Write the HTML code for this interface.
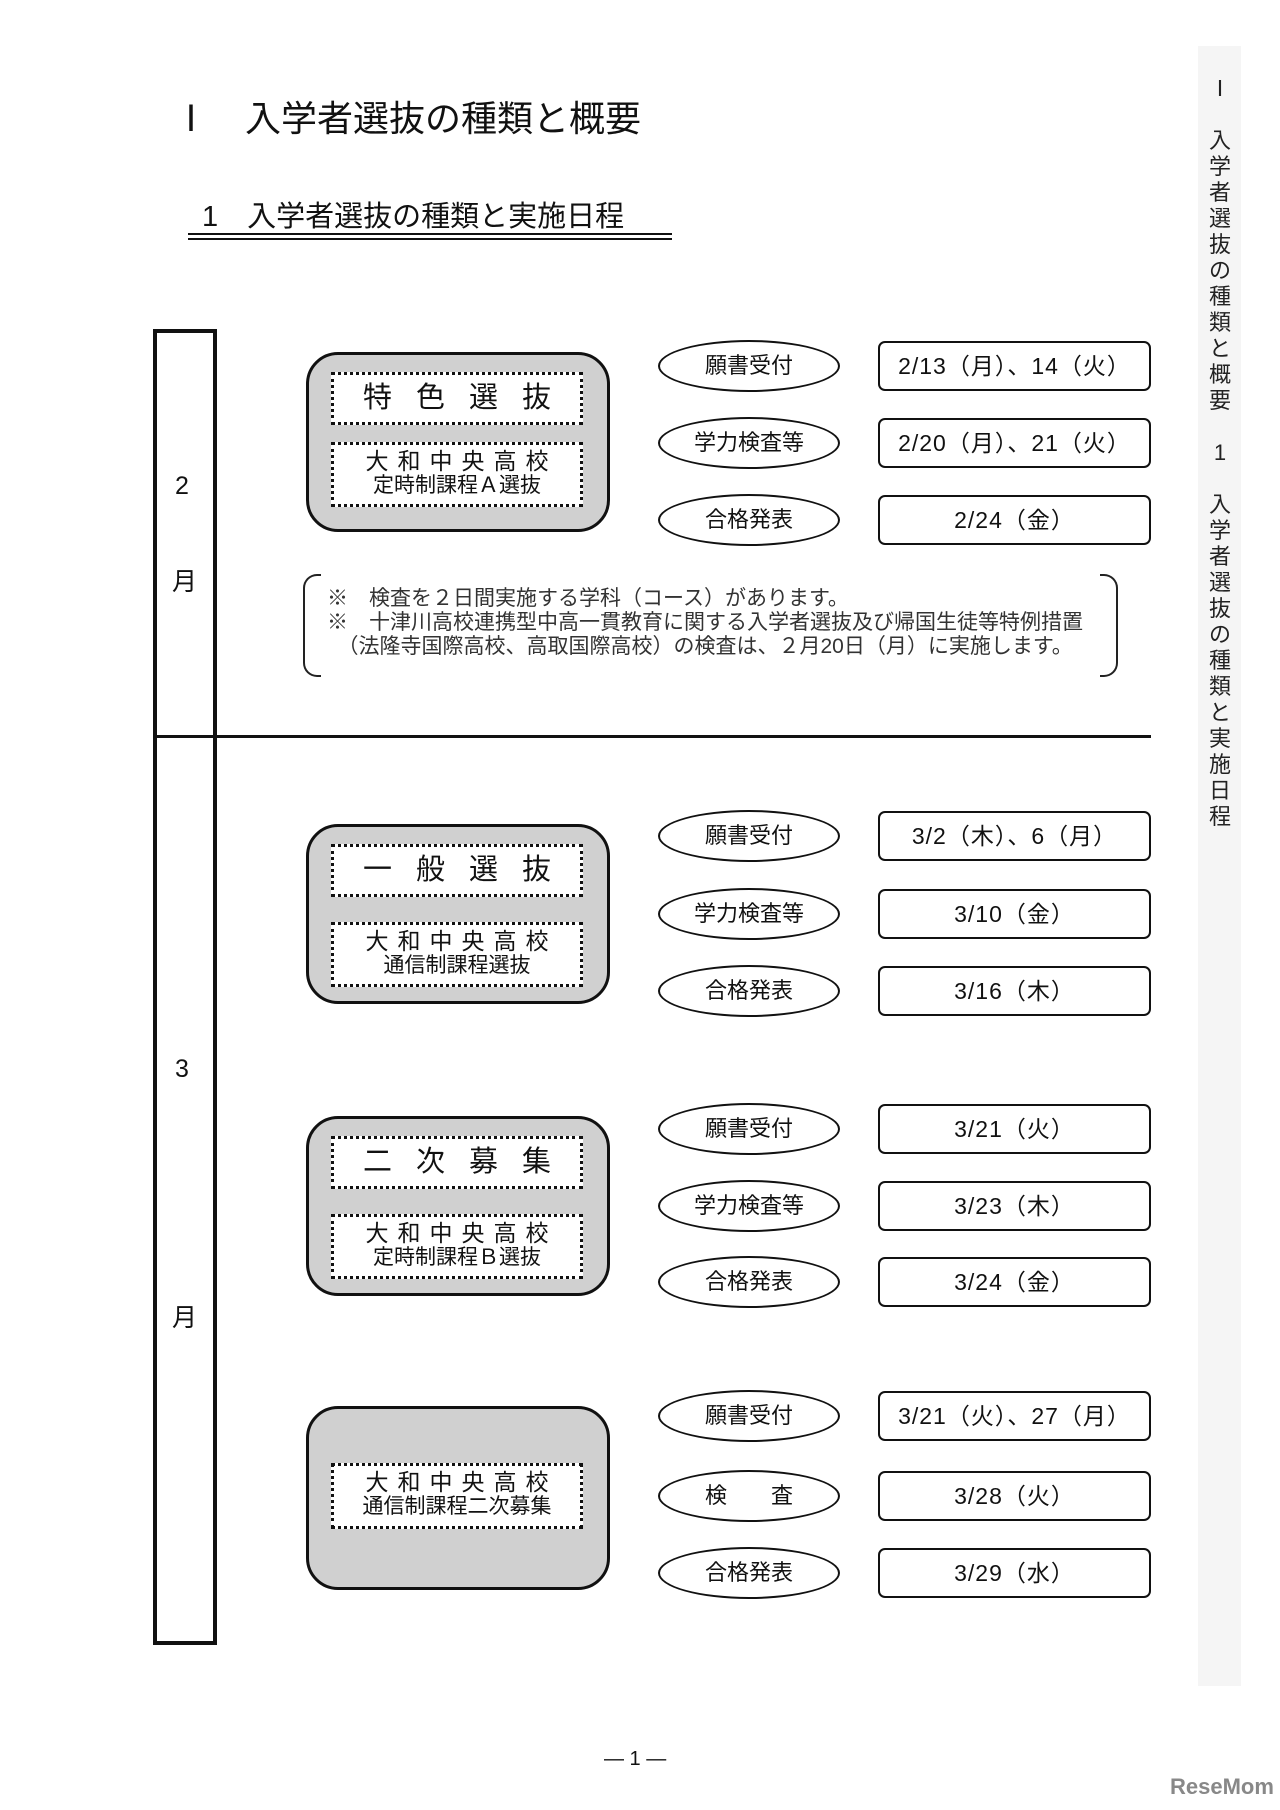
<!DOCTYPE html>
<html><head><meta charset="utf-8"><style>
body{margin:0;width:1280px;height:1810px;background:#fff;position:relative;font-family:"Liberation Sans","Noto Sans CJK JP",sans-serif;color:#111;overflow:hidden}
.a{position:absolute}
.g{position:absolute;left:306px;width:304px;height:180px;background:#d0d0d0;border:3px solid #111;border-radius:32px;box-sizing:border-box}
.d{position:absolute;left:331px;width:252px;border:3px dotted #111;background:#fff;box-sizing:border-box;text-align:center;line-height:1.1}
.o{position:absolute;left:658px;width:182px;height:52px;border:2px solid #111;border-radius:50%;box-sizing:border-box;text-align:center;line-height:48px;font-size:22px}
.b{position:absolute;left:878px;width:273px;height:50px;border:2px solid #111;border-radius:7px;box-sizing:border-box;text-align:center;line-height:46px;font-size:23px;letter-spacing:1px}
.t1{font-size:29px;letter-spacing:24px;padding-left:24px;line-height:47px}
.t2{font-size:23px;letter-spacing:9px;padding-left:9px}
.t3{font-size:21px}
</style></head><body>
<div class="a" style="left:173px;top:90px;font-size:36px">Ⅰ　入学者選抜の種類と概要</div>
<div class="a" style="left:202px;top:193px;font-size:29px">1　入学者選抜の種類と実施日程</div>
<div class="a" style="left:188px;top:233px;width:484px;height:2px;background:#111"></div>
<div class="a" style="left:188px;top:238px;width:484px;height:2px;background:#111"></div>

<div class="a" style="left:1198px;top:46px;width:43px;height:1640px;background:#f5f5f5"></div>
<div class="a" style="left:1206px;top:76px;width:28px;font-size:22px;line-height:26px;text-align:center;color:#222">Ⅰ<br><br>入<br>学<br>者<br>選<br>抜<br>の<br>種<br>類<br>と<br>概<br>要<br><br>1<br><br>入<br>学<br>者<br>選<br>抜<br>の<br>種<br>類<br>と<br>実<br>施<br>日<br>程</div>

<div class="a" style="left:153px;top:329px;width:64px;height:1316px;border:4px solid #111;box-sizing:border-box"></div>
<div class="a" style="left:153px;top:735px;width:998px;height:3px;background:#111"></div>
<div class="a" style="left:175px;top:472px;font-size:25px">2</div>
<div class="a" style="left:172px;top:562px;font-size:25px">月</div>
<div class="a" style="left:175px;top:1055px;font-size:25px">3</div>
<div class="a" style="left:172px;top:1298px;font-size:25px">月</div>

<!-- sec1 -->
<div class="g" style="top:352px"></div>
<div class="d" style="top:372px;height:53px"><div class="t1">特色選抜</div></div>
<div class="d" style="top:442px;height:65px;padding-top:4px"><div class="t2">大和中央高校</div><div class="t3">定時制課程Ａ選抜</div></div>
<div class="o" style="top:340px">願書受付</div><div class="b" style="top:341px">2/13（月）、14（火）</div>
<div class="o" style="top:417px">学力検査等</div><div class="b" style="top:418px">2/20（月）、21（火）</div>
<div class="o" style="top:494px">合格発表</div><div class="b" style="top:495px">2/24（金）</div>

<div class="a" style="left:303px;top:574px;width:16px;height:99px;border:2px solid #222;border-right:none;border-radius:14px 0 0 14px"></div>
<div class="a" style="left:1100px;top:574px;width:16px;height:99px;border:2px solid #222;border-left:none;border-radius:0 14px 14px 0"></div>
<div class="a" style="left:327px;top:587px;font-size:21px;line-height:24px;color:#333;white-space:nowrap">※　検査を２日間実施する学科（コース）があります。<br>※　十津川高校連携型中高一貫教育に関する入学者選抜及び帰国生徒等特例措置<br>　（法隆寺国際高校、高取国際高校）の検査は、２月20日（月）に実施します。</div>

<!-- sec2 -->
<div class="g" style="top:824px"></div>
<div class="d" style="top:844px;height:53px"><div class="t1">一般選抜</div></div>
<div class="d" style="top:922px;height:65px;padding-top:4px"><div class="t2">大和中央高校</div><div class="t3">通信制課程選抜</div></div>
<div class="o" style="top:810px">願書受付</div><div class="b" style="top:811px">3/2（木）、6（月）</div>
<div class="o" style="top:888px">学力検査等</div><div class="b" style="top:889px">3/10（金）</div>
<div class="o" style="top:965px">合格発表</div><div class="b" style="top:966px">3/16（木）</div>

<!-- sec3 -->
<div class="g" style="top:1116px"></div>
<div class="d" style="top:1136px;height:53px"><div class="t1">二次募集</div></div>
<div class="d" style="top:1214px;height:65px;padding-top:4px"><div class="t2">大和中央高校</div><div class="t3">定時制課程Ｂ選抜</div></div>
<div class="o" style="top:1103px">願書受付</div><div class="b" style="top:1104px">3/21（火）</div>
<div class="o" style="top:1180px">学力検査等</div><div class="b" style="top:1181px">3/23（木）</div>
<div class="o" style="top:1256px">合格発表</div><div class="b" style="top:1257px">3/24（金）</div>

<!-- sec4 -->
<div class="g" style="top:1406px;height:184px"></div>
<div class="d" style="top:1463px;height:66px;padding-top:4px"><div class="t2">大和中央高校</div><div class="t3">通信制課程二次募集</div></div>
<div class="o" style="top:1390px">願書受付</div><div class="b" style="top:1391px">3/21（火）、27（月）</div>
<div class="o" style="top:1470px">検　　査</div><div class="b" style="top:1471px">3/28（火）</div>
<div class="o" style="top:1547px">合格発表</div><div class="b" style="top:1548px">3/29（水）</div>

<div class="a" style="left:604px;top:1748px;font-size:20px">— 1 —</div>
<div class="a" style="left:1170px;top:1774px;font-size:22px;font-weight:bold;color:#888">ReseMom</div>
</body></html>
